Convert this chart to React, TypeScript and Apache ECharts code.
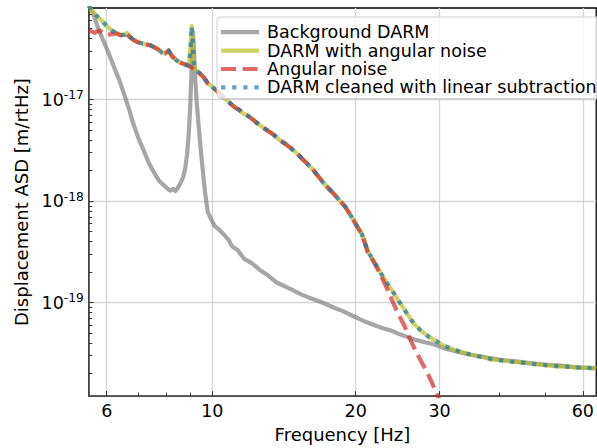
import React, { useEffect, useRef } from "react";
import * as echarts from "echarts";

const FONT = "DejaVu Sans";
const X_MIN = 5.5;
const X_MAX = 64;
const Y_MIN = 1.2e-20;
const Y_MAX = 8e-17;

const xLabelTicks = [6, 10, 20, 30, 60];
const xMinorTicks = [7, 8, 9, 40, 50];
const yDecades = [-19, -18, -17];
const yMinorMantissa = [2, 3, 4, 5, 6, 7, 8, 9];
const yMinorDecades = [-20, -19, -18, -17];

const seriesNames = [
  "Background DARM",
  "DARM with angular noise",
  "Angular noise",
  "DARM cleaned with linear subtraction",
];

const bgFreq = [5.5, 5.65, 5.8, 5.95, 6.09, 6.24, 6.38, 6.5, 6.6, 6.7, 6.79, 6.9, 7.02, 7.13, 7.25, 7.35, 7.46, 7.6, 7.72, 7.85, 7.98, 8.08, 8.17, 8.27, 8.36, 8.47, 8.57, 8.68, 8.77, 8.85, 8.92, 8.98, 9.03, 9.07, 9.11, 9.15, 9.2, 9.27, 9.35, 9.45, 9.55, 9.65, 9.78, 9.95, 10.11, 10.35, 10.61, 10.8, 11.0, 11.3, 11.66, 12.1, 12.58, 13.1, 13.64, 14.2, 14.79, 15.4, 15.96, 16.6, 17.3, 18.0, 18.75, 19.5, 20.23, 21.1, 21.93, 22.8, 23.77, 24.7, 25.65, 26.7, 27.8, 28.7, 29.57, 31, 33, 35, 37.5, 40, 43, 46, 50, 54, 58, 62, 64];
const bgAsd = [9.0e-17, 6.5e-17, 4.6e-17, 3.5e-17, 2.7e-17, 2.0e-17, 1.55e-17, 1.2e-17, 9.6e-18, 7.8e-18, 6.2e-18, 5.0e-18, 4.0e-18, 3.4e-18, 2.8e-18, 2.4e-18, 2.1e-18, 1.8e-18, 1.6e-18, 1.48e-18, 1.38e-18, 1.31e-18, 1.27e-18, 1.32e-18, 1.26e-18, 1.36e-18, 1.5e-18, 1.72e-18, 2.1e-18, 2.9e-18, 4.5e-18, 8.0e-18, 1.6e-17, 3.2e-17, 4.6e-17, 3.2e-17, 1.7e-17, 9.5e-18, 5.8e-18, 3.3e-18, 2.0e-18, 1.25e-18, 7.8e-19, 6.6e-19, 5.7e-19, 5.2e-19, 4.6e-19, 4.2e-19, 3.6e-19, 3.3e-19, 2.7e-19, 2.45e-19, 2.1e-19, 1.85e-19, 1.58e-19, 1.45e-19, 1.32e-19, 1.2e-19, 1.12e-19, 1.05e-19, 9.7e-20, 8.9e-20, 8.3e-20, 7.6e-20, 7.0e-20, 6.4e-20, 6.0e-20, 5.6e-20, 5.3e-20, 4.9e-20, 4.6e-20, 4.3e-20, 4.1e-20, 3.95e-20, 3.8e-20, 3.5e-20, 3.25e-20, 3.05e-20, 2.9e-20, 2.75e-20, 2.65e-20, 2.55e-20, 2.45e-20, 2.4e-20, 2.3e-20, 2.28e-20, 2.25e-20];

const mainFreq = [5.5, 5.59, 5.7, 5.8, 5.92, 6.03, 6.15, 6.29, 6.42, 6.55, 6.62, 6.7, 6.82, 6.95, 7.1, 7.25, 7.4, 7.54, 7.68, 7.83, 7.96, 8.09, 8.22, 8.36, 8.5, 8.64, 8.77, 8.9, 8.95, 9.0, 9.05, 9.1, 9.16, 9.25, 9.33, 9.45, 9.55, 9.66, 9.78, 9.95, 10.1, 10.26, 10.5, 10.7, 10.91, 11.15, 11.4, 11.6, 11.83, 12.1, 12.4, 12.82, 13.2, 13.5, 13.84, 14.2, 14.6, 15.0, 15.4, 15.8, 16.26, 16.7, 17.1, 17.55, 18.0, 18.5, 19.02, 19.5, 19.94, 20.3, 20.62, 21.21, 21.9, 22.67, 23.4, 24.11, 24.9, 25.65, 26.5, 27.41, 28.5, 29.57, 30.5, 32.06, 33.14, 34.2, 35.26, 37, 38.78, 41, 43, 45.35, 47.5, 50, 53.3, 56, 58.5, 61.4, 64];
const mainAsd = [8.4e-17, 7.5e-17, 6.8e-17, 6.3e-17, 5.7e-17, 5.2e-17, 4.8e-17, 4.55e-17, 4.35e-17, 4.35e-17, 4.55e-17, 4.2e-17, 3.9e-17, 3.7e-17, 3.6e-17, 3.5e-17, 3.45e-17, 3.3e-17, 3.15e-17, 2.92e-17, 2.85e-17, 3.05e-17, 2.7e-17, 2.5e-17, 2.35e-17, 2.28e-17, 2.22e-17, 2.18e-17, 2.4e-17, 3.3e-17, 5.3e-17, 3.4e-17, 2.1e-17, 1.95e-17, 1.88e-17, 1.78e-17, 1.7e-17, 1.58e-17, 1.45e-17, 1.36e-17, 1.28e-17, 1.2e-17, 1.08e-17, 1.0e-17, 9.2e-18, 8.4e-18, 7.9e-18, 7.3e-18, 7.0e-18, 6.5e-18, 5.9e-18, 5.25e-18, 4.8e-18, 4.45e-18, 4.0e-18, 3.7e-18, 3.35e-18, 3.0e-18, 2.65e-18, 2.35e-18, 2.05e-18, 1.75e-18, 1.52e-18, 1.33e-18, 1.18e-18, 1.02e-18, 8.8e-19, 7.3e-19, 6.1e-19, 5.3e-19, 4.7e-19, 3.2e-19, 2.5e-19, 1.9e-19, 1.5e-19, 1.22e-19, 9.6e-20, 7.8e-20, 6.2e-20, 5.3e-20, 4.6e-20, 4.15e-20, 3.8e-20, 3.45e-20, 3.3e-20, 3.15e-20, 3.05e-20, 2.9e-20, 2.75e-20, 2.68e-20, 2.6e-20, 2.55e-20, 2.48e-20, 2.42e-20, 2.36e-20, 2.33e-20, 2.3e-20, 2.28e-20, 2.25e-20];

const angFreq = [5.5, 5.58, 5.66, 5.74, 5.8, 5.87, 5.95, 6.03, 6.1, 6.2, 6.29, 6.42, 6.55, 6.62, 6.7, 6.82, 6.95, 7.1, 7.25, 7.4, 7.54, 7.68, 7.83, 7.96, 8.09, 8.22, 8.36, 8.5, 8.64, 8.77, 8.9, 9.05, 9.16, 9.25, 9.33, 9.45, 9.55, 9.66, 9.78, 9.95, 10.1, 10.26, 10.5, 10.7, 10.91, 11.15, 11.4, 11.6, 11.83, 12.1, 12.4, 12.82, 13.2, 13.5, 13.84, 14.2, 14.6, 15.0, 15.4, 15.8, 16.26, 16.7, 17.1, 17.55, 18.0, 18.5, 19.02, 19.5, 19.94, 20.3, 20.62, 21.21, 21.9, 22.67, 23.4, 24.11, 24.7, 25.28, 26.0, 26.77, 27.5, 28.2, 28.8, 29.4, 30.0];
const angAsd = [4.8e-17, 4.7e-17, 4.55e-17, 4.7e-17, 4.8e-17, 4.6e-17, 4.45e-17, 4.35e-17, 4.4e-17, 4.45e-17, 4.5e-17, 4.3e-17, 4.3e-17, 4.5e-17, 4.15e-17, 3.9e-17, 3.7e-17, 3.6e-17, 3.5e-17, 3.45e-17, 3.3e-17, 3.15e-17, 2.92e-17, 2.85e-17, 3.05e-17, 2.7e-17, 2.5e-17, 2.35e-17, 2.28e-17, 2.22e-17, 2.16e-17, 2.08e-17, 2.0e-17, 1.93e-17, 1.87e-17, 1.78e-17, 1.7e-17, 1.58e-17, 1.45e-17, 1.36e-17, 1.28e-17, 1.2e-17, 1.08e-17, 1.0e-17, 9.2e-18, 8.4e-18, 7.9e-18, 7.3e-18, 7.0e-18, 6.5e-18, 5.9e-18, 5.25e-18, 4.8e-18, 4.45e-18, 4.0e-18, 3.7e-18, 3.35e-18, 3.0e-18, 2.65e-18, 2.35e-18, 2.05e-18, 1.75e-18, 1.52e-18, 1.33e-18, 1.18e-18, 1.02e-18, 8.8e-19, 7.3e-19, 6.1e-19, 5.3e-19, 4.7e-19, 3.15e-19, 2.45e-19, 1.8e-19, 1.3e-19, 9.4e-20, 7.4e-20, 6.0e-20, 4.4e-20, 3.3e-20, 2.6e-20, 2.1e-20, 1.7e-20, 1.35e-20, 1.1e-20];

const cleanFreq = [5.5, 5.59, 5.7, 5.8, 5.92, 6.03, 6.15, 6.29, 6.42, 6.55, 6.62, 6.7, 6.82, 6.95, 7.1, 7.25, 7.4, 7.54, 7.68, 7.83, 7.96, 8.09, 8.22, 8.36, 8.5, 8.64, 8.77, 8.9, 8.95, 9.0, 9.05, 9.1, 9.16, 9.25, 9.33, 9.45, 9.55, 9.66, 9.78, 9.95, 10.1, 10.26, 10.5, 10.7, 10.91, 11.15, 11.4, 11.6, 11.83, 12.1, 12.4, 12.82, 13.2, 13.5, 13.84, 14.2, 14.6, 15.0, 15.4, 15.8, 16.26, 16.7, 17.1, 17.55, 18.0, 18.5, 19.02, 19.5, 19.94, 20.3, 20.62, 21.21, 21.9, 22.67, 23.4, 24.11, 24.9, 25.65, 26.5, 27.41, 28.5, 29.57, 30.5, 32.06, 33.14, 34.2, 35.26, 37, 38.78, 41, 43, 45.35, 47.5, 50, 53.3, 56, 58.5, 61.4, 64];
const cleanAsd = [8.4e-17, 7.5e-17, 6.8e-17, 6.3e-17, 5.7e-17, 5.2e-17, 4.8e-17, 4.55e-17, 4.35e-17, 4.35e-17, 4.55e-17, 4.2e-17, 3.9e-17, 3.7e-17, 3.6e-17, 3.5e-17, 3.45e-17, 3.3e-17, 3.15e-17, 2.92e-17, 2.85e-17, 3.05e-17, 2.7e-17, 2.5e-17, 2.35e-17, 2.28e-17, 2.22e-17, 2.18e-17, 2.4e-17, 3.3e-17, 5.3e-17, 3.4e-17, 2.1e-17, 1.95e-17, 1.88e-17, 1.78e-17, 1.7e-17, 1.58e-17, 1.45e-17, 1.36e-17, 1.28e-17, 1.2e-17, 1.08e-17, 1.0e-17, 9.2e-18, 8.4e-18, 7.9e-18, 7.3e-18, 7.0e-18, 6.5e-18, 5.9e-18, 5.25e-18, 4.8e-18, 4.45e-18, 4.0e-18, 3.7e-18, 3.35e-18, 3.0e-18, 2.65e-18, 2.35e-18, 2.05e-18, 1.75e-18, 1.52e-18, 1.33e-18, 1.18e-18, 1.02e-18, 8.8e-19, 7.3e-19, 6.1e-19, 5.3e-19, 4.7e-19, 3.2e-19, 2.5e-19, 1.9e-19, 1.5e-19, 1.22e-19, 9.6e-20, 7.8e-20, 6.2e-20, 5.3e-20, 4.6e-20, 4.15e-20, 3.8e-20, 3.45e-20, 3.3e-20, 3.15e-20, 3.05e-20, 2.9e-20, 2.75e-20, 2.68e-20, 2.6e-20, 2.55e-20, 2.48e-20, 2.42e-20, 2.36e-20, 2.33e-20, 2.3e-20, 2.28e-20, 2.25e-20];

const L = (v: number) => Math.log10(v);
const pairs = (f: number[], a: number[]) => f.map((v, i) => [L(v), L(a[i])]);

const yMinorTicks: number[] = [];
yMinorDecades.forEach((d) =>
  yMinorMantissa.forEach((m) => {
    const v = L(m) + d;
    if (v > L(Y_MIN) && v < L(Y_MAX)) yMinorTicks.push(v);
  })
);

export default function App() {
  const ref = useRef<HTMLDivElement>(null);
  useEffect(() => {
    if (!ref.current) return;
    const chart = echarts.init(ref.current, undefined, { renderer: "svg" });
    const lw = 4.2;
    const baseLine = (name: string, data: number[][], color: string, type: any) => ({
      type: "line",
      name,
      data,
      symbol: "none",
      showSymbol: false,
      silent: true,
      clip: true,
      itemStyle: { color, opacity: 0.7 },
      lineStyle: { color, width: lw, opacity: 0.7, type, cap: "butt", join: "round" },
    });
    const xCommon = { type: "value", min: L(X_MIN), max: L(X_MAX) };
    const yCommon = { type: "value", min: L(Y_MIN), max: L(Y_MAX) };
    chart.setOption({
      animation: false,
      backgroundColor: "#ffffff",
      textStyle: { fontFamily: FONT },
      grid: {
        left: 88.7,
        right: -8.6,
        top: 8,
        bottom: 47,
        show: true,
        borderColor: "#000000",
        borderWidth: 1.3,
        backgroundColor: "transparent",
      },
      legend: {
        orient: "vertical",
        left: 217,
        top: 17,
        itemWidth: 38,
        itemHeight: 12,
        itemGap: 0,
        padding: [6, 30, 2, 2],
        backgroundColor: "rgba(255,255,255,0.8)",
        borderColor: "#cccccc",
        borderWidth: 1,
        borderRadius: 4,
        itemStyle: { color: "transparent", borderColor: "transparent", borderWidth: 0, opacity: 0 },
        lineStyle: { width: lw },
        textStyle: { fontSize: 17.5, fontFamily: FONT, color: "#000", lineHeight: 18.4, padding: [0, 0, 0, 3] },
        data: seriesNames,
      },
      xAxis: [
        {
          ...xCommon,
          position: "bottom",
          name: "Frequency [Hz]",
          nameLocation: "middle",
          nameGap: 24,
          nameTextStyle: { fontSize: 18, fontFamily: FONT, color: "#000" },
          axisLine: { show: true, onZero: false, lineStyle: { color: "#555", width: 1.5 } },
          axisTick: { show: true, inside: true, length: 5, customValues: xLabelTicks.map(L), lineStyle: { color: "#333", width: 1 } },
          axisLabel: {
            customValues: xLabelTicks.map(L),
            formatter: (v: number) => String(Math.round(Math.pow(10, v))),
            fontSize: 17.5,
            fontFamily: FONT,
            color: "#000",
            margin: 6,
          },
          splitLine: { show: true, lineStyle: { color: "#d4d4d4", width: 1.3 } },
        },
        {
          ...xCommon,
          position: "bottom",
          axisLine: { show: false },
          axisTick: { show: true, inside: true, length: 3.5, customValues: xMinorTicks.map(L), lineStyle: { color: "#333", width: 1 } },
          axisLabel: { show: false },
          splitLine: { show: false },
        },
      ],
      yAxis: [
        {
          ...yCommon,
          position: "left",
          name: "Displacement ASD [m/rtHz]",
          nameLocation: "middle",
          nameRotate: 90,
          nameGap: 48,
          nameTextStyle: { fontSize: 18, fontFamily: FONT, color: "#000" },
          axisLine: { show: true, onZero: false, lineStyle: { color: "#555", width: 1.5 } },
          axisTick: { show: true, inside: true, length: 5, customValues: yDecades, lineStyle: { color: "#333", width: 1 } },
          axisLabel: {
            customValues: yDecades,
            formatter: (v: number) => `{b|10}{s|-${Math.abs(Math.round(v))}}`,
            margin: 5,
            rich: {
              b: { fontSize: 17.5, fontFamily: FONT, color: "#000", lineHeight: 21 },
              s: { fontSize: 12.2, fontFamily: FONT, color: "#000", verticalAlign: "top", lineHeight: 12 },
            },
          },
          splitLine: { show: true, lineStyle: { color: "#d4d4d4", width: 1.3 } },
        },
        {
          ...yCommon,
          position: "left",
          axisLine: { show: false },
          axisTick: { show: true, inside: true, length: 3.5, customValues: yMinorTicks, lineStyle: { color: "#333", width: 1 } },
          axisLabel: { show: false },
          splitLine: { show: false },
        },
      ],
      series: [
        baseLine(seriesNames[0], pairs(bgFreq, bgAsd), "#808080", "solid"),
        baseLine(seriesNames[1], pairs(mainFreq, mainAsd), "#bcbd22", "solid"),
        baseLine(seriesNames[2], pairs(angFreq, angAsd), "#d62728", [15, 6.5]),
        baseLine(seriesNames[3], pairs(cleanFreq, cleanAsd), "#1f77b4", [4.2, 6.9]),
      ],
    });
    return () => chart.dispose();
  }, []);
  return (
    <div
      ref={ref}
      style={{ position: "fixed", left: 0, top: 0, width: 597, height: 448 }}
    />
  );
}
